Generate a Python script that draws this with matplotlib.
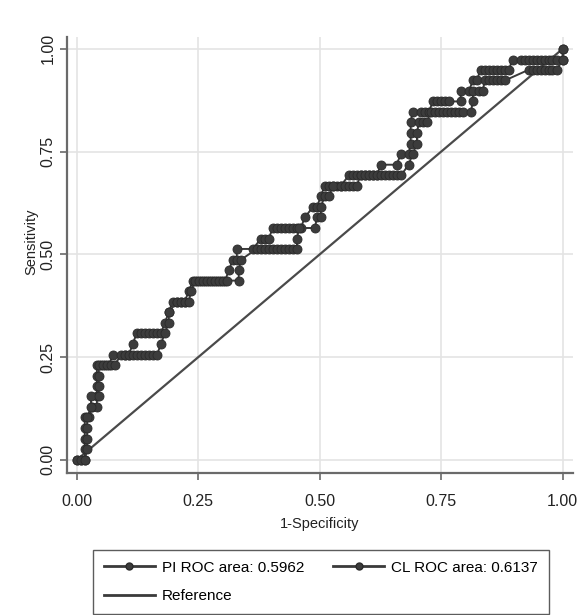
import matplotlib
matplotlib.use("Agg")
import matplotlib.pyplot as plt
from matplotlib.lines import Line2D

# ROC points (1-specificity, sensitivity).
pi_x = [0.000, 0.008, 0.016, 0.016, 0.016, 0.016, 0.016, 0.025, 0.031, 0.041, 0.041, 0.041,
        0.041, 0.041, 0.049, 0.058, 0.066, 0.074, 0.099, 0.107, 0.115, 0.123, 0.132, 0.140,
        0.148, 0.156, 0.165, 0.173, 0.181, 0.189, 0.197, 0.206, 0.214, 0.222, 0.230, 0.239,
        0.247, 0.255, 0.263, 0.272, 0.280, 0.288, 0.296, 0.305, 0.313, 0.321, 0.329, 0.329,
        0.362, 0.379, 0.387, 0.395, 0.403, 0.412, 0.420, 0.428, 0.436, 0.444, 0.453, 0.461,
        0.469, 0.486, 0.494, 0.502, 0.510, 0.519, 0.527, 0.535, 0.543, 0.560, 0.568, 0.576,
        0.584, 0.593, 0.601, 0.609, 0.617, 0.626, 0.658, 0.667, 0.683, 0.687, 0.687, 0.687,
        0.691, 0.708, 0.716, 0.724, 0.733, 0.741, 0.749, 0.757, 0.765, 0.790, 0.790, 0.807,
        0.815, 0.823, 0.831, 0.840, 0.848, 0.856, 0.864, 0.872, 0.881, 0.889, 0.897, 0.914,
        0.922, 0.930, 0.938, 0.947, 0.955, 0.963, 0.971, 0.979, 0.988, 1.000, 1.000]
pi_y = [0.000, 0.000, 0.000, 0.026, 0.051, 0.077, 0.103, 0.103, 0.128, 0.128, 0.154, 0.179,
        0.205, 0.231, 0.231, 0.231, 0.231, 0.256, 0.256, 0.256, 0.282, 0.308, 0.308, 0.308,
        0.308, 0.308, 0.308, 0.308, 0.333, 0.359, 0.385, 0.385, 0.385, 0.385, 0.410, 0.436,
        0.436, 0.436, 0.436, 0.436, 0.436, 0.436, 0.436, 0.436, 0.462, 0.487, 0.487, 0.513,
        0.513, 0.538, 0.538, 0.538, 0.564, 0.564, 0.564, 0.564, 0.564, 0.564, 0.564, 0.564,
        0.590, 0.615, 0.615, 0.641, 0.667, 0.667, 0.667, 0.667, 0.667, 0.692, 0.692, 0.692,
        0.692, 0.692, 0.692, 0.692, 0.692, 0.718, 0.718, 0.744, 0.744, 0.769, 0.795, 0.821,
        0.846, 0.846, 0.846, 0.846, 0.872, 0.872, 0.872, 0.872, 0.872, 0.872, 0.897, 0.897,
        0.923, 0.923, 0.949, 0.949, 0.949, 0.949, 0.949, 0.949, 0.949, 0.949, 0.974, 0.974,
        0.974, 0.974, 0.974, 0.974, 0.974, 0.974, 0.974, 0.974, 0.974, 0.974, 1.000]

cl_x = [0.000, 0.008, 0.016, 0.021, 0.021, 0.021, 0.021, 0.029, 0.029, 0.045, 0.045, 0.045,
        0.045, 0.054, 0.062, 0.070, 0.078, 0.091, 0.099, 0.107, 0.115, 0.123, 0.132, 0.140,
        0.148, 0.156, 0.165, 0.173, 0.181, 0.189, 0.189, 0.206, 0.214, 0.222, 0.230, 0.235,
        0.243, 0.251, 0.259, 0.267, 0.276, 0.284, 0.292, 0.300, 0.309, 0.333, 0.333, 0.338,
        0.370, 0.379, 0.387, 0.395, 0.403, 0.412, 0.420, 0.428, 0.436, 0.444, 0.453, 0.453,
        0.457, 0.490, 0.494, 0.502, 0.502, 0.510, 0.519, 0.527, 0.543, 0.551, 0.560, 0.568,
        0.576, 0.584, 0.593, 0.601, 0.609, 0.617, 0.626, 0.634, 0.642, 0.650, 0.658, 0.667,
        0.683, 0.691, 0.700, 0.700, 0.704, 0.712, 0.720, 0.728, 0.737, 0.745, 0.753, 0.761,
        0.770, 0.778, 0.786, 0.794, 0.811, 0.815, 0.815, 0.827, 0.835, 0.840, 0.848, 0.856,
        0.864, 0.872, 0.881, 0.930, 0.938, 0.947, 0.955, 0.963, 0.971, 0.979, 0.988, 1.000,
        1.000]
cl_y = [0.000, 0.000, 0.000, 0.026, 0.051, 0.077, 0.103, 0.128, 0.154, 0.154, 0.179, 0.205,
        0.231, 0.231, 0.231, 0.231, 0.231, 0.256, 0.256, 0.256, 0.256, 0.256, 0.256, 0.256,
        0.256, 0.256, 0.256, 0.282, 0.308, 0.333, 0.359, 0.385, 0.385, 0.385, 0.385, 0.410,
        0.436, 0.436, 0.436, 0.436, 0.436, 0.436, 0.436, 0.436, 0.436, 0.436, 0.462, 0.487,
        0.513, 0.513, 0.513, 0.513, 0.513, 0.513, 0.513, 0.513, 0.513, 0.513, 0.513, 0.538,
        0.564, 0.564, 0.590, 0.590, 0.615, 0.641, 0.641, 0.667, 0.667, 0.667, 0.667, 0.667,
        0.667, 0.692, 0.692, 0.692, 0.692, 0.692, 0.692, 0.692, 0.692, 0.692, 0.692, 0.692,
        0.718, 0.744, 0.769, 0.795, 0.821, 0.821, 0.821, 0.846, 0.846, 0.846, 0.846, 0.846,
        0.846, 0.846, 0.846, 0.846, 0.846, 0.872, 0.897, 0.897, 0.897, 0.923, 0.923, 0.923,
        0.923, 0.923, 0.923, 0.949, 0.949, 0.949, 0.949, 0.949, 0.949, 0.949, 0.949, 0.974,
        1.000]

ref_x = [0, 1]
ref_y = [0, 1]

pi_label = "PI ROC area: 0.5962"
cl_label = "CL ROC area: 0.6137"
ticks = [0, 0.25, 0.5, 0.75, 1.0]
tick_labels = ["0.00", "0.25", "0.50", "0.75", "1.00"]

font = ["Liberation Sans", "DejaVu Sans"]

fig = plt.figure(figsize=(5.82, 6.15), dpi=100)
ax = fig.add_axes([0.115, 0.231, 0.869, 0.709])

line_c = "#3a3a3a"
ax.plot(ref_x, ref_y, color="#4a4a4a", lw=1.6, zorder=2)
ax.plot(pi_x, pi_y, color=line_c, lw=1.4, marker="o", ms=6.5,
        mfc="#3c3c3c", mec="#2a2a2a", mew=0.6, zorder=3)
ax.plot(cl_x, cl_y, color=line_c, lw=1.4, marker="o", ms=6.5,
        mfc="#3c3c3c", mec="#2a2a2a", mew=0.6, zorder=3)

ax.set_xlim(-0.0206, 1.0206)
ax.set_ylim(-0.032, 1.029)
ax.set_xticks(ticks)
ax.set_yticks(ticks)
ax.set_xticklabels(tick_labels, family=font, fontsize=11.5)
ax.set_yticklabels(tick_labels, family=font, fontsize=11.5, rotation=90, va="center")
ax.grid(True, color="#e4e4e4", lw=1.2)
ax.set_axisbelow(True)

for s in ["top", "right"]:
    ax.spines[s].set_visible(False)
for s in ["left", "bottom"]:
    ax.spines[s].set_color("#6a6a6a")
    ax.spines[s].set_linewidth(1.6)
ax.tick_params(length=5, width=1.2, color="#6a6a6a", labelcolor="#222222")
ax.tick_params(axis="x", pad=10)
ax.tick_params(axis="y", pad=3)

ax.set_xlabel("1-Specificity", family=font, fontsize=10.5, color="#222222", labelpad=6)
ax.set_ylabel("Sensitivity", family=font, fontsize=10.5, color="#222222")
ax.yaxis.set_label_coords(-0.056, 0.53)

h_pi = Line2D([], [], color=line_c, lw=2, marker="o", ms=5, mfc="#3c3c3c", mec="#2a2a2a")
h_cl = Line2D([], [], color=line_c, lw=2, marker="o", ms=5, mfc="#3c3c3c", mec="#2a2a2a")
h_ref = Line2D([], [], color=line_c, lw=2)
leg = fig.legend([h_pi, h_ref, h_cl], [pi_label, "Reference", cl_label],
                 loc="lower left", bbox_to_anchor=(93 / 582, 0.002), ncol=2,
                 prop={"family": font, "size": 11}, frameon=True, fancybox=False,
                 handlelength=3.35, handletextpad=0.45, columnspacing=1.9,
                 labelspacing=0.95, borderpad=0.7, borderaxespad=0)
leg.get_frame().set_edgecolor("#333333")
leg.get_frame().set_linewidth(1.0)

plt.savefig("out.png", dpi=100)
plt.close()
